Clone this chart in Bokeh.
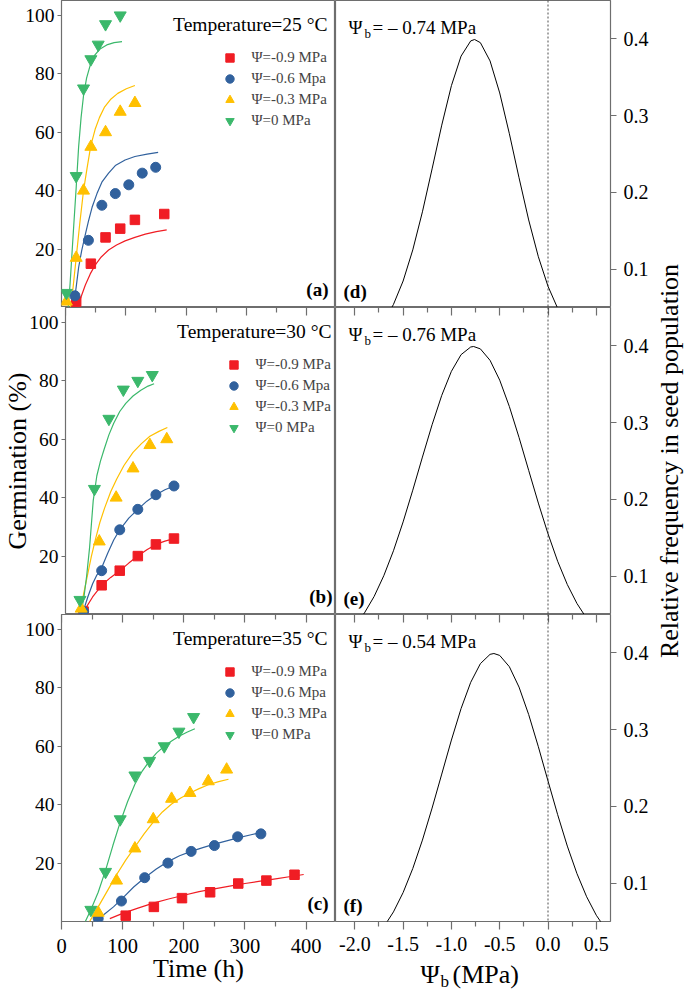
import math
from bokeh.plotting import figure
from bokeh.layouts import column, row
from bokeh.models import (Range1d, LinearAxis, FixedTicker, Label, Legend,
                          LegendItem, Span, PrintfTickFormatter)
from bokeh.embed import file_html
from bokeh.resources import INLINE

FONT = "Liberation Serif"
RED, BLUE, YEL, GRN = "#F01D24", "#31619D", "#FFC000", "#3BB86B"
FRAME = "#6e6e6e"

# ---------------- data ----------------
temperatures = ["25", "30", "35"]
series_labels = ["Ψ=-0.9 MPa", "Ψ=-0.6 Mpa", "Ψ=-0.3 MPa", "Ψ=0 MPa"]
psi_b_values = ["– 0.74", "– 0.76", "– 0.54"]
left_letters = ["(a)", "(b)", "(c)"]
right_letters = ["(d)", "(e)", "(f)"]

time_ticks = [0, 100, 200, 300, 400]
time_minor = [50, 150, 250, 350]
germ_ticks = [20, 40, 60, 80, 100]
psi_ticks = [-2.0, -1.5, -1.0, -0.5, 0.0, 0.5]
psi_minor = [-1.75, -1.25, -0.75, -0.25, 0.25]
freq_ticks = [0.1, 0.2, 0.3, 0.4]

# 25 C observed
t_red_25 = [24, 48, 72, 96, 120, 168]
g_red_25 = [2, 15, 24, 27, 30, 32]
t_blue_25 = [22, 44, 66, 88, 110, 132, 154]
g_blue_25 = [4, 23, 35, 39, 42, 46, 48]
t_yel_25 = [8, 24, 36, 48, 72, 96, 120]
g_yel_25 = [2, 17, 40, 55, 60, 67, 70]
t_grn_25 = [8, 24, 36, 48, 60, 72, 96]
g_grn_25 = [5, 45, 75, 85, 90, 97, 100]
# 25 C fitted
ft_red_25 = [25, 30, 39, 47, 55, 65, 77, 90, 104, 120, 137, 155, 172]
fg_red_25 = [0, 2.5, 7.7, 11.5, 14.5, 17.3, 19.7, 21.4, 22.8, 24, 25.1, 26, 26.6]
ft_blue_25 = [18, 20, 24, 28, 33, 39, 44, 50, 58, 66, 77, 88, 104, 120, 140, 158]
fg_blue_25 = [0, 1.1, 7, 13.7, 19.5, 25, 29.5, 34.3, 39, 42.9, 46, 48.6, 50.5, 51.7, 52.5, 53.1]
ft_yel_25 = [15, 19, 24, 30, 36, 42, 48, 55, 62, 70, 80, 92, 106, 120]
fg_yel_25 = [0, 7, 17, 29, 40, 48, 55.5, 61, 65, 68.5, 71.2, 73.3, 74.9, 76]
ft_grn_25 = [11, 14, 17, 20, 24, 28, 32, 36, 41, 47, 54, 63, 74, 86, 99]
fg_grn_25 = [0, 8, 18, 28, 41, 55, 65, 72.5, 78.5, 83, 86.3, 88.5, 89.9, 90.7, 91]

# 30 C observed
t_red_30 = [30, 60, 90, 120, 150, 180]
g_red_30 = [1, 10, 15, 20, 24, 26]
t_blue_30 = [30, 60, 90, 120, 150, 180]
g_blue_30 = [1, 15, 29, 36, 41, 44]
t_yel_30 = [26, 56, 84, 112, 140, 168]
g_yel_30 = [2, 25, 40, 50, 58, 60]
t_grn_30 = [24, 48, 72, 96, 120, 144]
g_grn_30 = [5, 43, 67, 77, 80, 82]
# 30 C fitted
ft_red_30 = [27, 30, 45, 60, 75, 90, 105, 120, 135, 150, 165, 180]
fg_red_30 = [0, 1, 6, 10, 12.7, 15, 17.6, 20, 22.2, 24, 25.1, 26]
ft_blue_30 = [27, 30, 37, 45, 52, 60, 70, 80, 90, 105, 120, 135, 150, 165, 180]
fg_blue_30 = [0, 1.5, 6, 10.5, 13.5, 16, 21, 25.5, 29, 33, 36, 38.8, 41, 42.7, 44]
ft_yel_30 = [24, 30, 36, 43, 50, 57, 65, 75, 85, 97, 112, 126, 140, 155, 169]
fg_yel_30 = [0, 7, 13, 20, 26, 31.5, 36.5, 42, 46.4, 51, 55.5, 58.5, 61, 62.7, 64]
ft_grn_30 = [25, 30, 35, 40, 46, 52, 58, 64, 72, 80, 90, 100, 112, 125, 137, 147]
fg_grn_30 = [0, 5, 13, 23, 39, 47.5, 52.5, 56.5, 61.5, 65.5, 69.5, 72.3, 74.8, 76.8, 78.2, 79]

# 35 C observed
t_red_35 = [105, 151, 197, 243, 289, 335, 381]
g_red_35 = [2, 5, 8, 10, 13, 14, 16]
t_blue_35 = [60, 98, 136, 174, 212, 250, 288, 326]
g_blue_35 = [1, 7, 15, 20, 24, 26, 29, 30]
t_yel_35 = [60, 90, 120, 150, 180, 210, 240, 270]
g_yel_35 = [3, 14, 25, 35, 42, 44, 48, 52]
t_grn_35 = [48, 72, 96, 120, 144, 168, 192, 216]
g_grn_35 = [4, 17, 35, 50, 55, 60, 65, 70]
# 35 C fitted
ft_red_35 = [79, 100, 125, 150, 175, 200, 225, 250, 275, 300, 325, 350, 375, 396]
fg_red_35 = [1, 2.8, 4.6, 6.3, 7.7, 9, 10.2, 11.2, 12.1, 13, 13.8, 14.6, 15.4, 16.1]
ft_blue_35 = [58, 70, 85, 100, 118, 136, 155, 174, 193, 212, 231, 250, 270, 290, 310, 333]
fg_blue_35 = [0, 2.5, 5, 8, 11.8, 15, 18, 20.5, 22.5, 24, 25.3, 26.5, 27.6, 28.7, 29.7, 30.8]
ft_yel_35 = [46, 60, 75, 90, 105, 120, 135, 150, 165, 180, 195, 210, 225, 240, 257, 273]
fg_yel_35 = [0, 5, 10.5, 16, 21, 25.5, 30, 34, 37.5, 40.2, 42.3, 44, 45.5, 46.8, 47.9, 48.7]
ft_grn_35 = [39, 48, 60, 72, 84, 96, 108, 120, 132, 144, 156, 168, 180, 193, 205, 218]
fg_grn_35 = [0, 4, 10, 17.5, 26, 34, 41, 47, 51.5, 55, 57.8, 60, 61.8, 63.5, 64.8, 66]

# base water potential distributions (relative frequency)
psi_25 = [-1.66, -1.6, -1.5, -1.4, -1.3, -1.2, -1.1, -1.0, -0.9, -0.8, -0.76, -0.7,
          -0.6, -0.5, -0.4, -0.3, -0.2, -0.1, 0.0, 0.1, 0.15]
freq_25 = [0.0402, 0.0540, 0.0845, 0.1250, 0.1746, 0.2305, 0.2875, 0.3389, 0.3774,
           0.3972, 0.3990, 0.3949, 0.3711, 0.3294, 0.2763, 0.2190, 0.1640, 0.1161,
           0.0776, 0.0490, 0.0382]
psi_30 = [-2.0, -1.9, -1.8, -1.7, -1.6, -1.5, -1.4, -1.3, -1.2, -1.1, -1.0, -0.9, -0.8,
          -0.77, -0.7, -0.6, -0.5, -0.4, -0.3, -0.2, -0.1, 0.0, 0.1, 0.2, 0.3, 0.4]
freq_30 = [0.0358, 0.0521, 0.0735, 0.1005, 0.1330, 0.1706, 0.2119, 0.2550, 0.2971,
           0.3354, 0.3667, 0.3884, 0.3984, 0.3990, 0.3959, 0.3810, 0.3552, 0.3208,
           0.2806, 0.2377, 0.1951, 0.1551, 0.1193, 0.0890, 0.0643, 0.0450]
psi_35 = [-1.7, -1.6, -1.5, -1.4, -1.3, -1.2, -1.1, -1.0, -0.9, -0.8, -0.7, -0.6, -0.56,
          -0.5, -0.4, -0.3, -0.2, -0.1, 0.0, 0.1, 0.2, 0.3, 0.4, 0.5, 0.6]
freq_35 = [0.0430, 0.0625, 0.0877, 0.1190, 0.1560, 0.1977, 0.2420, 0.2863, 0.3273,
           0.3615, 0.3858, 0.3979, 0.3990, 0.3965, 0.3818, 0.3553, 0.3195, 0.2776,
           0.2330, 0.1891, 0.1482, 0.1123, 0.0822, 0.0581, 0.0397]

observed = [
    [(t_red_25, g_red_25), (t_blue_25, g_blue_25), (t_yel_25, g_yel_25), (t_grn_25, g_grn_25)],
    [(t_red_30, g_red_30), (t_blue_30, g_blue_30), (t_yel_30, g_yel_30), (t_grn_30, g_grn_30)],
    [(t_red_35, g_red_35), (t_blue_35, g_blue_35), (t_yel_35, g_yel_35), (t_grn_35, g_grn_35)],
]
fitted = [
    [(ft_red_25, fg_red_25), (ft_blue_25, fg_blue_25), (ft_yel_25, fg_yel_25), (ft_grn_25, fg_grn_25)],
    [(ft_red_30, fg_red_30), (ft_blue_30, fg_blue_30), (ft_yel_30, fg_yel_30), (ft_grn_30, fg_grn_30)],
    [(ft_red_35, fg_red_35), (ft_blue_35, fg_blue_35), (ft_yel_35, fg_yel_35), (ft_grn_35, fg_grn_35)],
]
distributions = [(psi_25, freq_25), (psi_30, freq_30), (psi_35, freq_35)]

colors = [RED, BLUE, YEL, GRN]
markers = ["square", "circle", "triangle", "inverted_triangle"]
msizes = [9.5, 10, 12, 12]

# ---------------- layout sizes ----------------
FH = 307                     # frame height of each row
LEFT_YEND = 105.1
RIGHT_YEND = 0.4498
LB, LW = 61, 274             # left border / left frame width
RW, RB = 276, 40             # right frame width / right border
TR = 685 - LB - LW - RW - RB  # right title strip
BBL = 991 - 3 * FH           # bottom border of panel (c) (holds "Time (h)")
BBR = 38                     # bottom border of panel (f)
CAP = BBL - BBR              # caption strip under panel (f)


def base_fig(width, height, xr, yr, mbl=0, mbr=0, mbb=0):
    p = figure(width=width, height=height, x_range=xr, y_range=yr,
               x_axis_type=None, y_axis_type=None, output_backend="svg",
               toolbar_location=None, min_border_left=mbl, min_border_right=mbr,
               min_border_top=0, min_border_bottom=mbb)
    p.outline_line_color = FRAME
    p.outline_line_width = 1.2
    p.background_fill_color = "white"
    p.border_fill_color = "white"
    return p


def blank_fig(width, height):
    p = base_fig(width, height, Range1d(0, 1), Range1d(0, 1))
    p.outline_line_color = None
    return p


def tick_axis(ticks, minor, fmt=None, labels=True, tin=0, tout=8, size="20px",
              standoff=3, title=None, title_standoff=0, **kw):
    ax = LinearAxis(ticker=FixedTicker(ticks=ticks, minor_ticks=minor), **kw)
    ax.axis_line_color = None
    ax.major_tick_in = tin
    ax.major_tick_out = tout
    ax.minor_tick_in = int(round(tin * 0.6))
    ax.minor_tick_out = int(round(tout * 0.6))
    ax.major_tick_line_color = FRAME
    ax.minor_tick_line_color = FRAME
    ax.major_tick_line_width = 1.2
    ax.minor_tick_line_width = 1.2
    if fmt:
        ax.formatter = PrintfTickFormatter(format=fmt)
    if labels:
        ax.major_label_text_font = FONT
        ax.major_label_text_font_size = size
        ax.major_label_text_color = "black"
        ax.major_label_standoff = standoff
    else:
        ax.major_label_text_font_size = "0px"
        ax.major_label_text_color = None
        ax.major_label_standoff = 0
    if title:
        ax.axis_label = title
        ax.axis_label_text_font = FONT
        ax.axis_label_text_font_size = "26px"
        ax.axis_label_text_font_style = "normal"
        ax.axis_label_text_color = "black"
        ax.axis_label_standoff = title_standoff
    return ax


def lab(p, x, y, text, size, **kw):
    # y is the vertical middle of the text (screen px from the frame bottom)
    opts = dict(x_units="screen", y_units="screen", text_font=FONT,
                text_font_size=size, text_color="black",
                text_baseline="middle")
    opts.update(kw)
    p.add_layout(Label(x=x, y=y, text=text, **opts))


rows = []
for i in range(3):
    hl = FH + (BBL if i == 2 else 0)
    hr = FH + (BBR if i == 2 else 0)

    # ---- left: germination time courses ----
    pl = base_fig(LB + LW, hl, Range1d(0, 448), Range1d(0, LEFT_YEND), mbl=LB,
                  mbb=(BBL if i == 2 else 0))
    pl.add_layout(tick_axis(germ_ticks, [], tout=4, size="19.5px", standoff=3,
                            title=("Germination (%)" if i == 1 else None),
                            title_standoff=-6), "left")
    if i == 2:
        pl.add_layout(tick_axis(time_ticks, time_minor, tout=8, size="20.5px",
                                standoff=9, title="Time (h)", title_standoff=-2), "below")
    if i > 0:
        pl.add_layout(tick_axis(time_ticks, time_minor, labels=False, tin=8, tout=0,
                                fixed_location=LEFT_YEND), "above")
    items = []
    for k in range(4):
        ft, fg = fitted[i][k]
        pl.line(ft, fg, line_color=colors[k], line_width=1.2)
    for k in range(4):
        t, g = observed[i][k]
        r = pl.scatter(t, g, marker=markers[k], size=msizes[k],
                       fill_color=colors[k], line_color=colors[k])
        items.append(LegendItem(label=series_labels[k], renderers=[r]))
    leg = Legend(items=items, location=(157.5, 176), orientation="vertical",
                 glyph_width=21, glyph_height=21, label_height=21, spacing=0,
                 padding=0, margin=0, label_standoff=12,
                 background_fill_alpha=0, border_line_color=None,
                 label_text_font=FONT, label_text_font_size="15px")
    pl.add_layout(leg)
    lab(pl, 266, 283.5, "Temperature=%s °C" % temperatures[i], "19.5px", text_align="right")
    lab(pl, 267, 18, left_letters[i], "19px", text_align="right",
        text_font_style="bold")

    # ---- right: base water potential distribution ----
    pr = base_fig(RW + RB, hr, Range1d(-2.2, 0.647), Range1d(0.05, RIGHT_YEND), mbr=RB,
                  mbb=(BBR if i == 2 else 0))
    pr.add_layout(tick_axis(freq_ticks, [], fmt="%.1f", tout=6, size="20px", standoff=7), "right")
    if i == 2:
        pr.add_layout(tick_axis(psi_ticks, psi_minor, fmt="%.1f", tout=8, size="20px",
                                standoff=7), "below")
    if i > 0:
        pr.add_layout(tick_axis(psi_ticks, psi_minor, labels=False, tin=8, tout=0,
                                fixed_location=RIGHT_YEND), "above")
    pr.add_layout(Span(location=0, dimension="height", line_color="#222222",
                       line_dash="2 2", line_width=0.8))
    px, py = distributions[i]
    pr.line(px, py, line_color="black", line_width=1.0)
    lab(pr, 13, 280.5, "Ψ", "19px")
    lab(pr, 29, 274.5, "b", "13px")
    lab(pr, 37, 280.5, "= %s MPa" % psi_b_values[i], "19px")
    lab(pr, 8, 16, right_letters[i], "19px", text_font_style="bold")

    if i == 2:
        # caption strip under panel (f): Ψb (MPa)
        cap_r = blank_fig(RW + RB, CAP)
        lab(cap_r, 85, 17.5, "Ψ", "26px")
        lab(cap_r, 105, 10, "b", "17px")
        lab(cap_r, 117, 17.5, "(MPa)", "26px")
        rows.append(row(pl, column(pr, cap_r)))
    else:
        rows.append(row(pl, pr))

# ---- right vertical axis title ----
title_r = blank_fig(TR, 991)
lab(title_r, 18, 991 - 460.5, "Relative frequency in seed population", "26px",
    angle=math.pi / 2, text_align="center")

layout = row(column(*rows), title_r)
open("out.html", "w").write(file_html(layout, INLINE))
